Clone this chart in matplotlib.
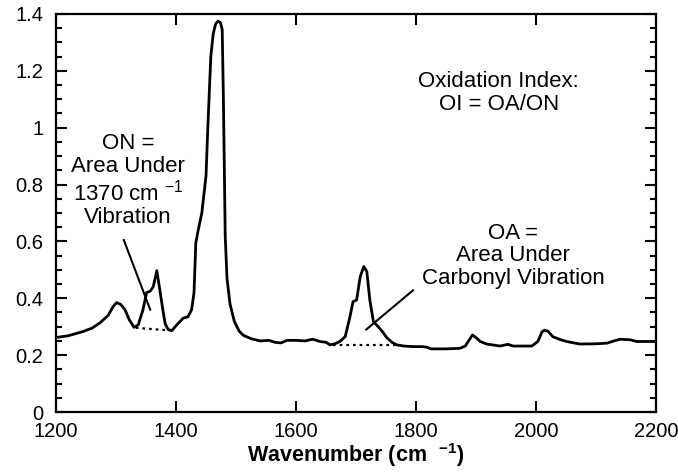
import matplotlib
matplotlib.use("Agg")
import matplotlib.pyplot as plt
from matplotlib.ticker import MultipleLocator

plt.rcParams['font.family'] = ['Liberation Sans', 'DejaVu Sans']
plt.rcParams['mathtext.default'] = 'regular'

wavenumber = [1200, 1220, 1245, 1260, 1273, 1287, 1295, 1301, 1308, 1315, 1322, 1330,
              1337, 1345, 1351, 1357, 1362, 1368, 1373, 1378, 1382, 1387, 1393, 1401,
              1412, 1420, 1426, 1430, 1433, 1437, 1443, 1450, 1453, 1458, 1462, 1466,
              1470, 1474, 1477, 1479, 1482, 1485, 1490, 1497, 1505, 1512, 1525, 1540,
              1555, 1565, 1575, 1585, 1600, 1615, 1628, 1640, 1650, 1657, 1665, 1673,
              1682, 1690, 1695, 1701, 1707, 1713, 1718, 1723, 1729, 1737, 1745, 1751,
              1760, 1768, 1780, 1795, 1810, 1818, 1825, 1850, 1873, 1882, 1894, 1900,
              1907, 1918, 1940, 1953, 1962, 1993, 2003, 2010, 2014, 2020, 2028, 2040,
              2051, 2073, 2100, 2118, 2130, 2140, 2157, 2168, 2200]
absorbance = [0.262, 0.268, 0.283, 0.295, 0.313, 0.340, 0.370, 0.385, 0.378, 0.360, 0.325, 0.298,
              0.306, 0.360, 0.420, 0.425, 0.440, 0.497, 0.430, 0.360, 0.310, 0.290, 0.286, 0.306,
              0.330, 0.335, 0.360, 0.420, 0.595, 0.640, 0.700, 0.830, 1.000, 1.250, 1.330, 1.365,
              1.375, 1.370, 1.345, 1.100, 0.620, 0.470, 0.380, 0.320, 0.285, 0.270, 0.258, 0.250,
              0.252, 0.245, 0.243, 0.252, 0.252, 0.250, 0.256, 0.248, 0.245, 0.236, 0.240, 0.248,
              0.265, 0.336, 0.388, 0.394, 0.476, 0.512, 0.494, 0.394, 0.318, 0.300, 0.280, 0.262,
              0.245, 0.236, 0.232, 0.230, 0.230, 0.228, 0.222, 0.222, 0.224, 0.232, 0.271, 0.262,
              0.248, 0.239, 0.232, 0.238, 0.232, 0.232, 0.248, 0.282, 0.288, 0.284, 0.265, 0.255,
              0.248, 0.239, 0.240, 0.242, 0.250, 0.256, 0.254, 0.248, 0.248]

on_baseline_x = [1333, 1390]
on_baseline_y = [0.296, 0.287]
oa_baseline_x = [1662, 1770]
oa_baseline_y = [0.236, 0.236]

on_pointer_x = [1313, 1357]
on_pointer_y = [0.605, 0.360]
oa_pointer_x = [1717, 1795]
oa_pointer_y = [0.290, 0.428]

fig = plt.figure(figsize=(6.78, 4.74), dpi=100)
ax = fig.add_axes([0.0826, 0.1308, 0.8850, 0.8397])

ax.plot(wavenumber, absorbance, color='black', lw=2.0, solid_joinstyle='round')
ax.plot(on_baseline_x, on_baseline_y, color='black', lw=1.6, ls=(0, (1.2, 1.8)))
ax.plot(oa_baseline_x, oa_baseline_y, color='black', lw=1.6, ls=(0, (1.2, 1.8)))
ax.plot(on_pointer_x, on_pointer_y, color='black', lw=1.5)
ax.plot(oa_pointer_x, oa_pointer_y, color='black', lw=1.5)

fs = 16
ax.text(1938, 1.122, "Oxidation Index:\nOI = OA/ON", ha='center', va='center',
        fontsize=fs, linespacing=1.12)
ax.text(1320, 0.813, "ON =\nArea Under\n1370 cm $^{-1}$\nVibration", ha='center',
        va='center', fontsize=fs, linespacing=1.12)
ax.text(1962, 0.549, "OA =\nArea Under\nCarbonyl Vibration", ha='center', va='center',
        fontsize=fs, linespacing=1.12)

ax.set_xlim(1200, 2200)
ax.set_ylim(0, 1.4)
ax.xaxis.set_major_locator(MultipleLocator(200))
ax.yaxis.set_minor_locator(MultipleLocator(0.05))
ax.set_yticks([0, 0.2, 0.4, 0.6, 0.8, 1, 1.2, 1.4])
ax.set_yticklabels(['0', '0.2', '0.4', '0.6', '0.8', '1', '1.2', '1.4'])
ax.tick_params(which='both', direction='in', top=True, right=True, labelsize=14.5,
               width=1.5, colors='black')
ax.tick_params(which='major', length=8)
ax.tick_params(axis='y', which='major', pad=9)
ax.tick_params(axis='x', which='major', pad=7)
ax.tick_params(which='minor', length=4)
for s in ax.spines.values():
    s.set_linewidth(1.6)

ax.set_xlabel("Wavenumber (cm  $^{-1}$)", fontsize=15.5, fontweight='bold', labelpad=0)

fig.savefig("out.png", dpi=100)
